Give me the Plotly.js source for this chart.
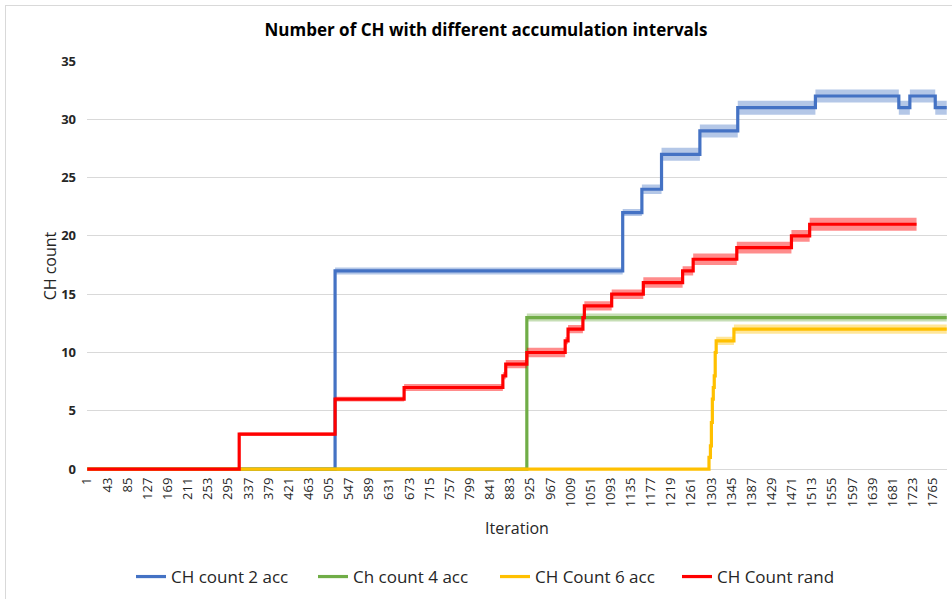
<!DOCTYPE html>
<html><head><meta charset="utf-8">
<script src="https://cdn.plot.ly/plotly-3.0.1.min.js"></script>
<style>
html,body{margin:0;padding:0;background:#fff;overflow:hidden;}
#frame{position:absolute;left:5px;top:5px;width:1000px;height:700px;border-left:1px solid #d9d9d9;border-top:1px solid #d9d9d9;}
#chart{position:absolute;left:0;top:0;width:952px;height:599px;}
</style></head><body>
<div id="frame"></div>
<div id="chart"></div>
<script>
// X-axis category labels (every 42nd iteration)
const tickLabels = [1, 43, 85, 127, 169, 211, 253, 295, 337, 379, 421, 463, 505, 547, 589, 631, 673, 715, 757, 799, 841, 883, 925, 967, 1009, 1051, 1093, 1135, 1177, 1219, 1261, 1303, 1345, 1387, 1429, 1471, 1513, 1555, 1597, 1639, 1681, 1723, 1765];
const lastIteration = 1794;

// Series names
const seriesNames = ["CH count 2 acc", "Ch count 4 acc", "CH Count 6 acc", "CH Count rand"];

// CH count 2 acc (change points: iteration, value, error)
const blueIter = [1, 518, 1118, 1158, 1199, 1279, 1358, 1520, 1694, 1717, 1770, 1794];
const blueVal  = [0, 17, 22, 24, 27, 29, 31, 32, 31, 32, 31, 31];
const blueErr  = [0, 0.3, 0.3, 0.4, 0.55, 0.55, 0.6, 0.55, 0.6, 0.55, 0.6, 0.6];

// Ch count 4 acc
const greenIter = [1, 918, 1794];
const greenVal  = [0, 13, 13];
const greenErr  = [0, 0.35, 0.35];

// CH Count 6 acc
const yellowIter = [1, 1298, 1301, 1303, 1305, 1307, 1309, 1311, 1313, 1350, 1794];
const yellowVal  = [0, 1, 2, 4, 6, 7, 8, 10, 11, 12, 12];
const yellowErr  = [0, 0.15, 0.15, 0.15, 0.15, 0.15, 0.15, 0.15, 0.35, 0.4, 0.4];

// CH Count rand
const redIter = [1, 318, 518, 662, 868, 874, 918, 998, 1004, 1035, 1038, 1095, 1161, 1243, 1265, 1356, 1470, 1508, 1731];
const redVal  = [0, 3, 6, 7, 8, 9, 10, 11, 12, 13, 14, 15, 16, 17, 18, 19, 20, 21, 21];
const redErr  = [0, 0.15, 0.2, 0.3, 0.3, 0.35, 0.4, 0.3, 0.35, 0.3, 0.4, 0.4, 0.45, 0.4, 0.5, 0.5, 0.5, 0.55, 0.55];

const FONT = "Open Sans";
const series = [
  {name: seriesNames[0], x: blueIter, y: blueVal, e: blueErr, color: "#4472C4", band: "rgba(68,114,196,0.40)"},
  {name: seriesNames[1], x: greenIter, y: greenVal, e: greenErr, color: "#70AD47", band: "rgba(112,173,71,0.40)"},
  {name: seriesNames[2], x: yellowIter, y: yellowVal, e: yellowErr, color: "#FFC000", band: "rgba(255,192,0,0.40)"},
  {name: seriesNames[3], x: redIter, y: redVal, e: redErr, color: "#FF0000", band: "rgba(255,0,0,0.45)"}
];

const traces = [];
series.forEach(s => {
  const lower = s.y.map((v, i) => v - s.e[i]);
  const upper = s.y.map((v, i) => v + s.e[i]);
  traces.push({x: s.x, y: lower, mode: "lines", line: {shape: "hv", width: 0, color: s.band},
    hoverinfo: "skip", showlegend: false});
  traces.push({x: s.x, y: upper, mode: "lines", line: {shape: "hv", width: 0, color: s.band},
    fill: "tonexty", fillcolor: s.band, hoverinfo: "skip", showlegend: false});
  traces.push({x: s.x, y: s.y, name: s.name, mode: "lines", line: {shape: "hv", width: 3.2, color: s.color}});
});

// y range starts slightly below 0 so the lines at 0 are not clipped; 0 stays at the same pixel row
const yMin = -0.16;
const pxPerUnit = 408 / 35;

const layout = {
  width: 952, height: 599,
  margin: {l: 87, r: 5, t: 61, b: 130 + yMin * pxPerUnit, autoexpand: false},
  paper_bgcolor: "rgba(0,0,0,0)", plot_bgcolor: "rgba(0,0,0,0)",
  font: {family: FONT, color: "#404040"},
  title: {text: "Number of CH with different accumulation intervals", x: 486/952, xanchor: "center",
    y: 1 - 30/599, yanchor: "middle", font: {family: FONT, size: 17, weight: "bold", color: "#000"}},
  xaxis: {
    type: "linear", range: [0.5, lastIteration + 0.5], automargin: false,
    tickmode: "array", tickvals: tickLabels, ticktext: tickLabels.map(String),
    tickangle: -90, tickfont: {family: FONT, size: 13, color: "#262626"},
    showgrid: false, zeroline: false, showline: false, ticks: "",
    ticklabelstandoff: 3,
    title: {text: "Iteration", font: {family: FONT, size: 16, color: "#262626"}, standoff: 16}
  },
  yaxis: {
    range: [yMin, 35], dtick: 5, tick0: 0, automargin: false,
    showgrid: true, gridcolor: "#d9d9d9", gridwidth: 1, zeroline: false, showline: false, ticks: "",
    tickfont: {family: FONT, size: 13, weight: "bold", color: "#262626"},
    ticklabelstandoff: 10,
    title: {text: "CH count", font: {family: FONT, size: 16, color: "#262626"}, standoff: 0}
  },
  showlegend: true,
  legend: {orientation: "h", x: (131 - 87) / 860, xanchor: "left", yref: "container", y: 1 - 577 / 599, yanchor: "middle",
    font: {family: FONT, size: 17, color: "#262626"}, entrywidth: 137, entrywidthmode: "pixels",
    bgcolor: "rgba(0,0,0,0)", traceorder: "normal"}
};

Plotly.newPlot("chart", traces, layout, {displayModeBar: false, staticPlot: true});
</script>
</body></html>
